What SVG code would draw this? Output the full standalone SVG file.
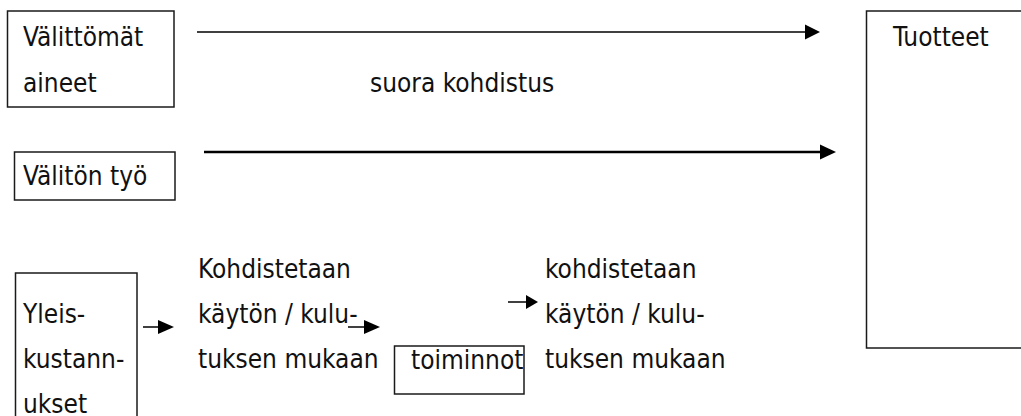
<svg xmlns="http://www.w3.org/2000/svg" width="1021" height="416" viewBox="0 0 1021 416">
<style>
text{font-family:"DejaVu Sans Condensed","DejaVu Sans",sans-serif;font-stretch:condensed;font-size:26px;fill:#111}
.box{fill:none;stroke:#1a1a1a;stroke-width:1.5}
.ln{stroke:#000;stroke-width:1.5;fill:none}
.ln2{stroke:#000;stroke-width:2.5;fill:none}
.hd{fill:#000}
</style>
<rect width="1021" height="416" fill="#fff"/>
<g id="valittomat-aineet">
<rect class="box" x="7.5" y="11" width="166.5" height="96"/>
<text x="23" y="46">Välittömät</text>
<text x="23" y="92">aineet</text>
</g>
<g id="valiton-tyo">
<rect class="box" x="14.5" y="152" width="160.5" height="48"/>
<text x="23" y="185">Välitön työ</text>
</g>
<g id="yleiskustannukset">
<rect class="box" x="15.5" y="273" width="121.5" height="160"/>
<text x="23" y="323">Yleis-</text>
<text x="23" y="368">kustann-</text>
<text x="23" y="413">ukset</text>
</g>
<g id="toiminnot">
<rect class="box" x="394.5" y="346" width="129.5" height="48"/>
<text x="411" y="369">toiminnot</text>
</g>
<g id="tuotteet">
<rect class="box" x="866.5" y="11" width="170" height="337"/>
<text x="893" y="46">Tuotteet</text>
</g>
<g id="labels">
<text x="370" y="92">suora kohdistus</text>
<text x="198" y="278">Kohdistetaan</text>
<text x="198" y="323">käytön / kulu-</text>
<text x="198" y="368">tuksen mukaan</text>
<text x="545" y="278">kohdistetaan</text>
<text x="545" y="323">käytön / kulu-</text>
<text x="545" y="368">tuksen mukaan</text>
</g>
<g id="connectors">
<line class="ln" x1="197" y1="32" x2="806" y2="32"/>
<polygon class="hd" points="805,24.5 820,32 805,39.5"/>
<line class="ln2" x1="204" y1="152" x2="821" y2="152"/>
<polygon class="hd" points="820,144.5 836,152 820,159.5"/>
<line class="ln" x1="143" y1="327" x2="159" y2="327"/>
<polygon class="hd" points="158,320 174,327 158,334"/>
<line class="ln" x1="348" y1="327" x2="365" y2="327"/>
<polygon class="hd" points="364,320 380,327 364,334"/>
<line class="ln" x1="508" y1="302" x2="528" y2="302"/>
<polygon class="hd" points="526,295 538,302 526,309"/>
</g>
</svg>
